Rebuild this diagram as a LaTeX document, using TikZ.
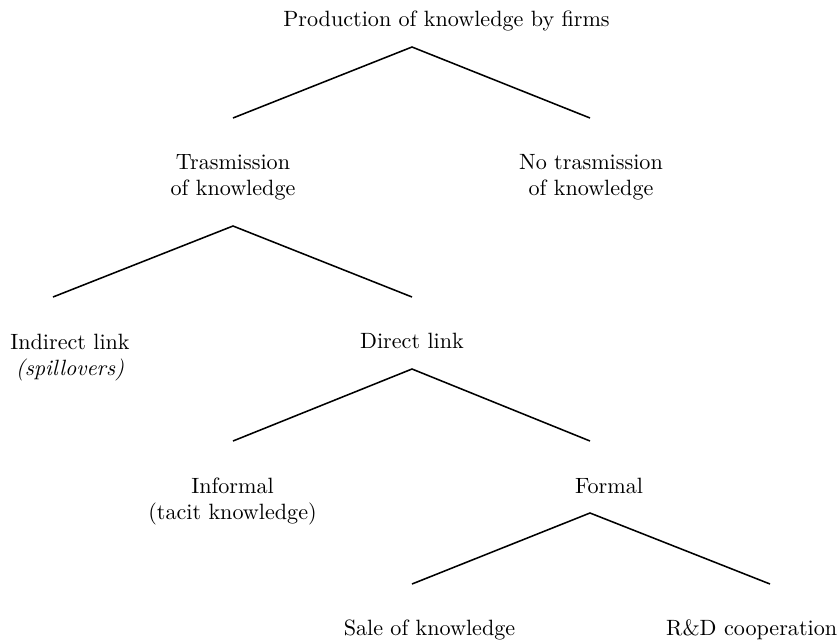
\documentclass[tikz,border=0pt]{standalone}
\begin{document}
\begin{tikzpicture}[x=0.452pt,y=-0.452pt,
  lbl/.style={anchor=base,inner sep=0pt,outer sep=0pt},
  branch/.style={line width=0.7pt,line join=miter}]
\useasboundingbox (0,0) rectangle (840,642);
% text nodes
\node[lbl] (root) at (446.5,26) {Production of knowledge by firms};
\node[lbl] (tr) at (233,169) {\begin{tabular}[t]{@{}c@{}}Trasmission\\of knowledge\end{tabular}};
\node[lbl] (notr) at (591,169) {\begin{tabular}[t]{@{}c@{}}No trasmission\\of knowledge\end{tabular}};
\node[lbl] (ind) at (70,349) {\begin{tabular}[t]{@{}c@{}}Indirect link\\\textit{(spillovers)}\end{tabular}};
\node[lbl] (dir) at (412,348) {Direct link};
\node[lbl] (inf) at (232.5,493) {\begin{tabular}[t]{@{}c@{}}Informal\\(tacit knowledge)\end{tabular}};
\node[lbl] (for) at (609,493) {Formal};
\node[lbl] (sale) at (429.5,635) {Sale of knowledge};
\node[lbl] (rd) at (751.7,635) {R\&D cooperation};
% branch points
\coordinate (rootA) at (412,47);
\coordinate (trE) at (233,118);
\coordinate (notrE) at (590,118);
\coordinate (trA) at (233,226);
\coordinate (indE) at (53,297);
\coordinate (dirE) at (412,297);
\coordinate (dirA) at (412,369);
\coordinate (infE) at (233,441);
\coordinate (forE) at (590,441);
\coordinate (forA) at (590,513);
\coordinate (saleE) at (412,584);
\coordinate (rdE) at (770,584);
% connectors
\draw[branch] (trE) -- (rootA) -- (notrE);
\draw[branch] (indE) -- (trA) -- (dirE);
\draw[branch] (infE) -- (dirA) -- (forE);
\draw[branch] (saleE) -- (forA) -- (rdE);
\end{tikzpicture}
\end{document}
